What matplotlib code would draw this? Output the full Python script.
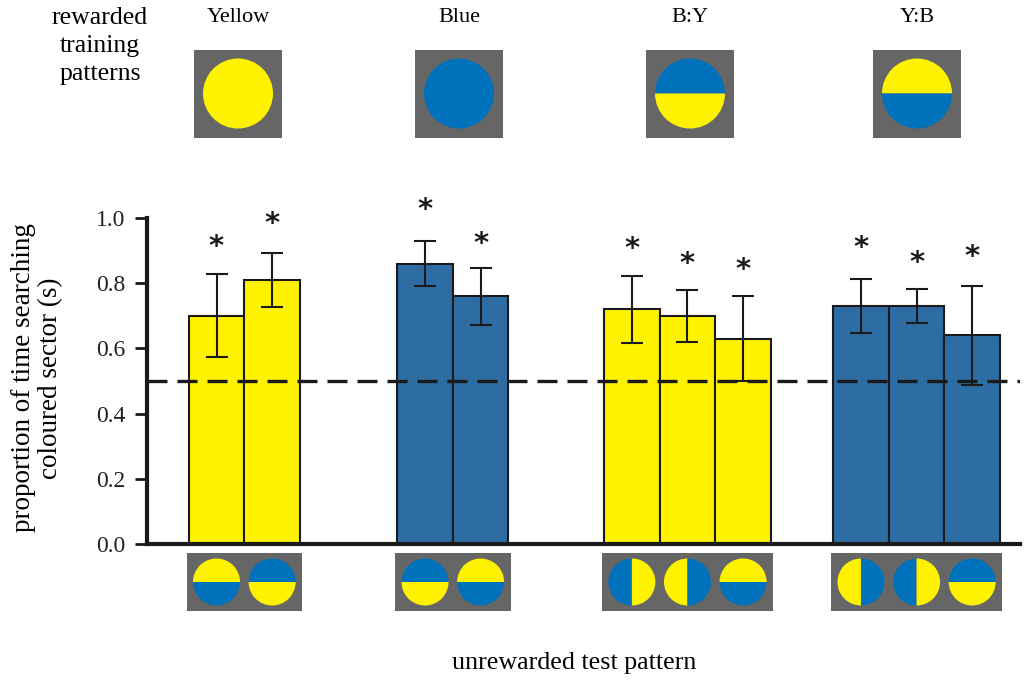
import matplotlib
matplotlib.use("Agg")
import matplotlib.pyplot as plt
from matplotlib.patches import Wedge, Circle, Rectangle

# groups of rewarded training patterns
groups = ["Yellow", "Blue", "B:Y", "Y:B"]
train_patterns = ["Y", "B", "BY", "YB"]

# unrewarded test patterns under each bar (YB = yellow top / blue bottom, Y|B = yellow left / blue right)
test_patterns = [["YB", "BY"], ["BY", "YB"], ["B|Y", "Y|B", "YB"], ["Y|B", "B|Y", "BY"]]

# proportion of time searching coloured sector, and error bars
values = [[0.70, 0.81], [0.86, 0.76], [0.72, 0.70, 0.63], [0.73, 0.73, 0.64]]
errors = [[0.127, 0.082], [0.070, 0.087], [0.102, 0.080, 0.131], [0.084, 0.053, 0.151]]
star_y = [[0.912, 0.982], [1.024, 0.921], [0.906, 0.860, 0.842], [0.909, 0.863, 0.881]]
bar_colors = ["#FFF200", "#2E6CA4", "#FFF200", "#2E6CA4"]

yticks = [0.0, 0.2, 0.4, 0.6, 0.8, 1.0]
chance = 0.5

# layout (bar positions in bar-width units, top icon centres in pixels)
positions = [[1.25, 2.25], [5.0, 6.0], [8.72, 9.72, 10.72], [12.84, 13.84, 14.84]]
top_centres = [238, 459, 690, 917]

YEL = "#FFF200"
BLU = "#0072BC"
GRY = "#666666"
W, H = 1024, 686

plt.rcParams["font.family"] = ["Liberation Serif", "DejaVu Serif"]

fig = plt.figure(figsize=(W / 100, H / 100), dpi=100)
ax = fig.add_axes([147 / W, 1 - 544 / H, (1020 - 147) / W, (544 - 218) / H])

for g in range(len(groups)):
    ax.bar(positions[g], values[g], width=1.0, color=bar_colors[g],
           edgecolor="#1a1a1a", linewidth=1.5, zorder=2)
    ax.errorbar(positions[g], values[g], yerr=errors[g], fmt="none",
                ecolor="#1a1a1a", elinewidth=1.5, capsize=8, capthick=1.5, zorder=4)
    for x, sy in zip(positions[g], star_y[g]):
        ax.text(x, sy, "*", ha="center", va="center", fontsize=21,
                family="DejaVu Sans", fontweight="bold", color="#1a1a1a",
                clip_on=False, zorder=5)

ax.axhline(chance, color="#1a1a1a", lw=2.4, ls=(0, (6, 3)), zorder=3)

ax.set_xlim(0, 15.7)
ax.set_ylim(0, 1.0)
ax.set_xticks([])
ax.set_yticks(yticks)
ax.set_yticklabels([f"{t:.1f}" for t in yticks], fontsize=17, color="#222222")
ax.tick_params(axis="y", length=8.5, width=2, direction="out", color="#1a1a1a", pad=7)
for s in ["top", "right"]:
    ax.spines[s].set_visible(False)
for s in ["left", "bottom"]:
    ax.spines[s].set_linewidth(3)
    ax.spines[s].set_color("#1a1a1a")

fig.text(37 / W, 1 - 378 / H, "proportion of time searching\ncoloured sector (s)",
         rotation=90, ha="center", va="center", fontsize=19.5,
         multialignment="center", linespacing=1.12)
fig.text(574 / W, 1 - 663 / H, "unrewarded test pattern", ha="center", va="center",
         fontsize=18.7)
fig.text(100 / W, 1 - 46 / H, "rewarded\ntraining\npatterns", ha="center", va="center",
         fontsize=18.5, linespacing=1.38)

# overlay in pixel coordinates for the pattern icons
ov = fig.add_axes([0, 0, 1, 1], zorder=10)
ov.set_xlim(0, W)
ov.set_ylim(0, H)
ov.axis("off")


def icon(cx, cy, r, kind):
    if kind == "Y" or kind == "B":
        ov.add_patch(Circle((cx, cy), r, color=YEL if kind == "Y" else BLU, lw=0))
        return
    if "|" in kind:
        left, right = kind.split("|")
        halves = [(90, 270, left), (270, 90, right)]
    else:
        halves = [(0, 180, kind[0]), (180, 360, kind[1])]
    for t1, t2, c in halves:
        ov.add_patch(Wedge((cx, cy), r, t1, t2, color=YEL if c == "Y" else BLU, lw=0))


for g in range(len(groups)):
    cx = top_centres[g]
    cy = H - 93.5
    ov.add_patch(Rectangle((cx - 44, cy - 44), 88, 88, color=GRY, lw=0))
    icon(cx, cy, 35, train_patterns[g])
    fig.text(cx / W, 1 - 17 / H, groups[g], ha="center", va="center", fontsize=16)

    xs = [ax.transData.transform((p, 0))[0] for p in positions[g]]
    by = H - 582
    ov.add_patch(Rectangle((xs[0] - 30, by - 29), xs[-1] - xs[0] + 60, 58, color=GRY, lw=0))
    for x, kind in zip(xs, test_patterns[g]):
        icon(x, by, 23.5, kind)

fig.savefig("out.png", dpi=100)
